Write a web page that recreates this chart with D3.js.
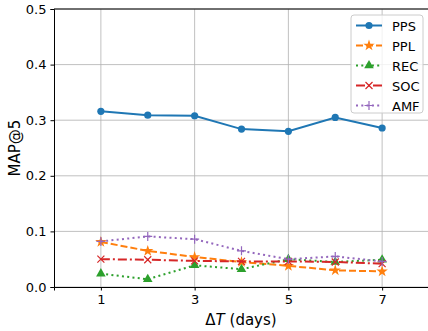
<!DOCTYPE html>
<meta charset="utf-8">
<html><head>
<style>
body { margin: 0; background: #fff; }
text { font-family: "DejaVu Sans", sans-serif; fill: #000; }
.grid line { stroke: #b0b0b0; stroke-width: 0.8px; }
</style>
</head>
<body>
<svg width="428" height="331"></svg>
<script src="https://d3js.org/d3.v7.min.js"></script>
<script>

var days = [1, 2, 3, 4, 5, 6, 7];
var xTicks = [1, 3, 5, 7];
var yTicks = [0.0, 0.1, 0.2, 0.3, 0.4, 0.5];

var pps = [0.316, 0.309, 0.308, 0.284, 0.280, 0.305, 0.286];
var ppl = [0.081, 0.065, 0.054, 0.045, 0.038, 0.030, 0.028];
var rec = [0.024, 0.014, 0.039, 0.032, 0.050, 0.045, 0.049];
var soc = [0.050, 0.049, 0.047, 0.046, 0.046, 0.045, 0.042];
var amf = [0.082, 0.091, 0.086, 0.065, 0.050, 0.055, 0.046];

var series = [
  {name: "PPS", values: pps, color: "#1f77b4", dash: null, marker: "circle"},
  {name: "PPL", values: ppl, color: "#ff7f0e", dash: "7,3", marker: "star"},
  {name: "REC", values: rec, color: "#2ca02c", dash: "2,3.3", marker: "triangle"},
  {name: "SOC", values: soc, color: "#d62728", dash: "9,3,2,3", marker: "x"},
  {name: "AMF", values: amf, color: "#9467bd", dash: "2,3.3", marker: "plus"}
];

var svg = d3.select("svg"),
    mLeft = 54, mRight = 429, mTop = 9, mBottom = 287;

var x = d3.scaleLinear().domain([0, 8]).range([mLeft, mRight]);
var y = d3.scaleLinear().domain([0, 0.5]).range([mBottom, mTop]);

// grid
var grid = svg.append("g").attr("class", "grid");
grid.selectAll(".vx").data(xTicks).enter().append("line")
    .attr("x1", function(d) { return x(d); }).attr("x2", function(d) { return x(d); })
    .attr("y1", mTop).attr("y2", mBottom);
grid.selectAll(".hy").data(yTicks).enter().append("line")
    .attr("x1", mLeft).attr("x2", mRight)
    .attr("y1", function(d) { return y(d); }).attr("y2", function(d) { return y(d); });

// axes
var xAxis = svg.append("g")
    .attr("transform", "translate(0," + mBottom + ")")
    .call(d3.axisBottom(x).tickValues(xTicks).tickFormat(d3.format("d")).tickSizeOuter(0).tickSize(3.5).tickPadding(4));
var yAxis = svg.append("g")
    .attr("transform", "translate(" + mLeft + ",0)")
    .call(d3.axisLeft(y).tickValues(yTicks).tickFormat(d3.format(".1f")).tickSizeOuter(0).tickSize(3.5).tickPadding(4));
[xAxis, yAxis].forEach(function(a) {
  a.selectAll("text").style("font-size", "13px").style("font-family", "DejaVu Sans");
  a.select(".domain").attr("stroke", "#000").attr("stroke-width", 1);
  a.selectAll(".tick line").attr("stroke", "#000");
});
svg.append("line").attr("x1", mLeft).attr("x2", mRight).attr("y1", mTop).attr("y2", mTop)
    .attr("stroke", "#000");

// markers
function drawMarker(g, type, color) {
  if (type === "circle") {
    g.append("circle").attr("r", 3.6).attr("fill", color);
  } else if (type === "star") {
    g.append("path").attr("d", d3.symbol().type(d3.symbolStar).size(40)).attr("fill", color);
  } else if (type === "triangle") {
    g.append("path").attr("d", d3.symbol().type(d3.symbolTriangle).size(40)).attr("fill", color);
  } else if (type === "x") {
    g.append("path").attr("d", "M-3.5,-3.5L3.5,3.5M-3.5,3.5L3.5,-3.5")
        .attr("stroke", color).attr("stroke-width", 1.2).attr("fill", "none");
  } else if (type === "plus") {
    g.append("path").attr("d", "M-4.5,0L4.5,0M0,-4.5L0,4.5")
        .attr("stroke", color).attr("stroke-width", 1.2).attr("fill", "none");
  }
}

var line = d3.line()
    .x(function(d, i) { return x(days[i]); })
    .y(function(d) { return y(d); });

series.forEach(function(s) {
  var g = svg.append("g");
  g.append("path")
      .attr("d", line(s.values))
      .attr("fill", "none")
      .attr("stroke", s.color)
      .attr("stroke-width", 2)
      .attr("stroke-dasharray", s.dash);
  s.values.forEach(function(v, i) {
    var m = g.append("g").attr("transform", "translate(" + x(days[i]) + "," + y(v) + ")");
    drawMarker(m, s.marker, s.color);
  });
});

// legend
var lg = svg.append("g");
lg.append("rect")
    .attr("x", 351).attr("y", 15).attr("width", 72).attr("height", 98).attr("rx", 3)
    .attr("fill", "#fff").attr("fill-opacity", 0.8)
    .attr("stroke", "#ccc").attr("stroke-width", 1);
series.forEach(function(s, i) {
  var yy = 25.5 + i * 20;
  lg.append("line")
      .attr("x1", 356).attr("x2", 382).attr("y1", yy).attr("y2", yy)
      .attr("stroke", s.color).attr("stroke-width", 2)
      .attr("stroke-dasharray", s.dash);
  var m = lg.append("g").attr("transform", "translate(369," + yy + ")");
  drawMarker(m, s.marker, s.color);
  lg.append("text")
      .attr("x", 392).attr("y", yy + 5)
      .style("font-size", "13px")
      .text(s.name);
});

// axis labels
svg.append("text")
    .attr("x", (mLeft + 428) / 2).attr("y", 325)
    .attr("text-anchor", "middle")
    .style("font-size", "15px")
    .html("Δ<tspan font-style='italic'>T</tspan> (days)");
svg.append("text")
    .attr("transform", "translate(20," + (mTop + mBottom) / 2 + ") rotate(-90)")
    .attr("text-anchor", "middle")
    .style("font-size", "15px")
    .text("MAP@5");

</script>
</body>
</html>
